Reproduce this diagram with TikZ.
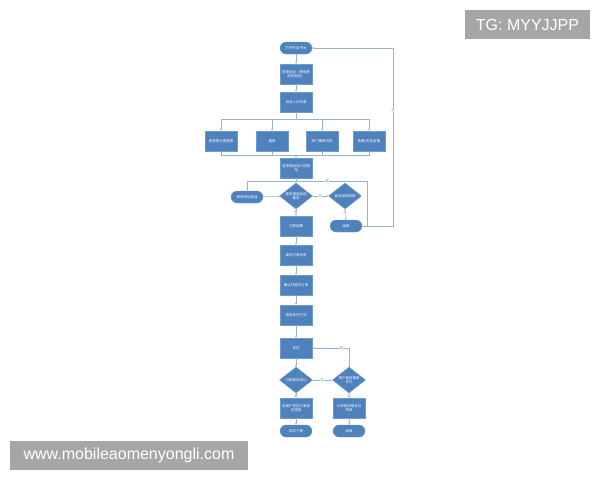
\documentclass[tikz,border=0pt]{standalone}
\usepackage{fontspec}
\newfontfamily\cjk{Noto Sans CJK SC}
\newfontfamily\wmfont{Liberation Sans}
\usetikzlibrary{shapes.geometric,arrows.meta}

\definecolor{boxblue}{RGB}{79,129,189}
\definecolor{boxedge}{RGB}{110,155,205}
\definecolor{wire}{RGB}{150,180,210}
\definecolor{wmgray}{RGB}{166,166,166}

\begin{document}
\begin{tikzpicture}[x=1pt, y=-1pt,
	every node/.style={font=\cjk\fontsize{3.5}{4.3}\selectfont, text=white, align=center},
	box/.style={draw=boxedge, fill=boxblue, line width=.4pt, minimum width=32pt, minimum height=20pt, inner sep=1pt, text width=29pt},
	term/.style={draw=boxedge, fill=boxblue, line width=.4pt, rounded corners=6pt, minimum width=32pt, minimum height=12pt, inner sep=1pt},
	ask/.style={draw=boxedge, fill=boxblue, line width=.4pt, diamond, aspect=1.3, minimum width=33pt, minimum height=26pt, inner sep=0pt},
	tag/.style={fill=white, text=wire!80!black, inner sep=.4pt},
	wire/.style={draw=wire, line width=.5pt},
	arrow/.style={wire, -{Stealth[length=2.2pt, width=2pt]}},
	wmbox/.style={fill=wmgray, text=white, font=\wmfont\fontsize{16}{16}\selectfont, inner sep=0pt}]
	% \flowbox#name#x#y#text
	\def\flowbox#1#2#3#4{
		\node[box] (#1) at (#2, #3) {#4};
	}
	
	% \flowend#name#x#y#text
	\def\flowend#1#2#3#4{
		\node[term] (#1) at (#2, #3) {#4};
	}
	
	% \flowask#name#x#y#text
	\def\flowask#1#2#3#4{
		\node[ask] (#1) at (#2, #3) {#4};
	}
	
	\useasboundingbox (0, 0) rectangle (600, 480);
	
	% upper part
	\flowend{start}{296}{48}{打开外卖平台}
	\flowbox{addr}{296}{74}{选择地址（使用新\\收货地址）}
	\flowbox{list}{296}{102}{浏览入口列表}
	\flowbox{shop}{221}{141}{按商家分类搜索}
	\flowbox{search}{272}{141}{搜索}
	\flowbox{hot}{322}{141}{热门推荐浏览}
	\flowbox{fav}{369}{141}{收藏/历史店铺}
	\flowbox{cart}{296}{168}{选择商品加入购物\\车}
	\flowask{enough}{296}{196}{是否满足起送\\要求}
	\flowend{again}{247}{197}{继续添加商品}
	\flowask{goon}{345}{196}{是否继续购物}
	\flowend{quit}{346}{226}{结束}
	
	% order part
	\flowbox{settle}{296}{226}{立即结算}
	\flowbox{form}{296}{255}{填写订单信息}
	\flowbox{submit}{296}{285}{确认并提交订单}
	\flowbox{paymode}{296}{315}{选择支付方式}
	\flowbox{pay}{296}{348}{支付}
	\flowask{paid}{296}{380}{付款是否成功}
	\flowask{retry}{349}{380}{用户是否重新\\支付}
	\flowbox{notice}{296}{408}{向用户发送订单成\\功短信}
	\flowbox{cancel}{349}{408}{订单取消或支付\\失败}
	\flowend{done}{296}{431}{成功下单}
	\flowend{stop}{349}{431}{结束}
	
	% fork and merge
	\coordinate (split) at (296, 119);
	\coordinate (merge) at (296, 155);
	\draw[wire] (list) -- (split);
	\foreach \b in {shop, search, hot, fav} {
		\draw[arrow] (split) -| (\b.north);
		\draw[wire] (\b.south) |- (merge);
	}
	\draw[arrow] (merge) -- (cart);
	
	% links
	\draw[arrow] (start) -- (addr);
	\draw[arrow] (addr) -- (list);
	\draw[arrow] (cart) -- (enough);
	\draw[arrow] (again) -- (enough);
	\draw[arrow] (enough) -- (settle);
	\draw[arrow] (enough) -- (goon);
	\draw[arrow] (goon) -- (quit);
	\draw[arrow] (settle) -- (form);
	\draw[arrow] (form) -- (submit);
	\draw[arrow] (submit) -- (paymode);
	\draw[arrow] (paymode) -- (pay);
	\draw[arrow] (pay) -- (paid);
	\draw[arrow] (paid) -- (notice);
	\draw[arrow] (paid) -- (retry);
	\draw[arrow] (retry) -- (cancel);
	\draw[arrow] (notice) -- (done);
	\draw[arrow] (cancel) -- (stop);
	\draw[arrow] (retry.north) |- (pay.east);
	
	% loops back
	\coordinate (turn) at (367, 181);
	\coordinate (loop) at (393, 226);
	\draw[arrow] (quit.east) -| (turn) -| (again.north);
	\draw[arrow] (quit.east) -- (loop) |- (start.east);
	
	% yes and no
	\node[tag] (t1) at (327, 181) {是};
	\node[tag] (t2) at (393, 110) {否};
	\node[tag] (t3) at (320, 196) {否};
	\node[tag] (t4) at (296, 212) {是};
	\node[tag] (t5) at (345, 212) {否};
	\node[tag] (t6) at (341, 348) {是};
	\node[tag] (t7) at (322, 380) {否};
	\node[tag] (t8) at (296, 396) {是};
	\node[tag] (t9) at (349, 396) {否};
	
	% watermarks
	\node[wmbox, minimum width=125pt, minimum height=29pt] (tg) at (527.5, 24.5) {TG: MYYJJPP};
	\node[wmbox, minimum width=238pt, minimum height=29pt] (site) at (129, 455) {www.mobileaomenyongli.com};
\end{tikzpicture}
\end{document}
